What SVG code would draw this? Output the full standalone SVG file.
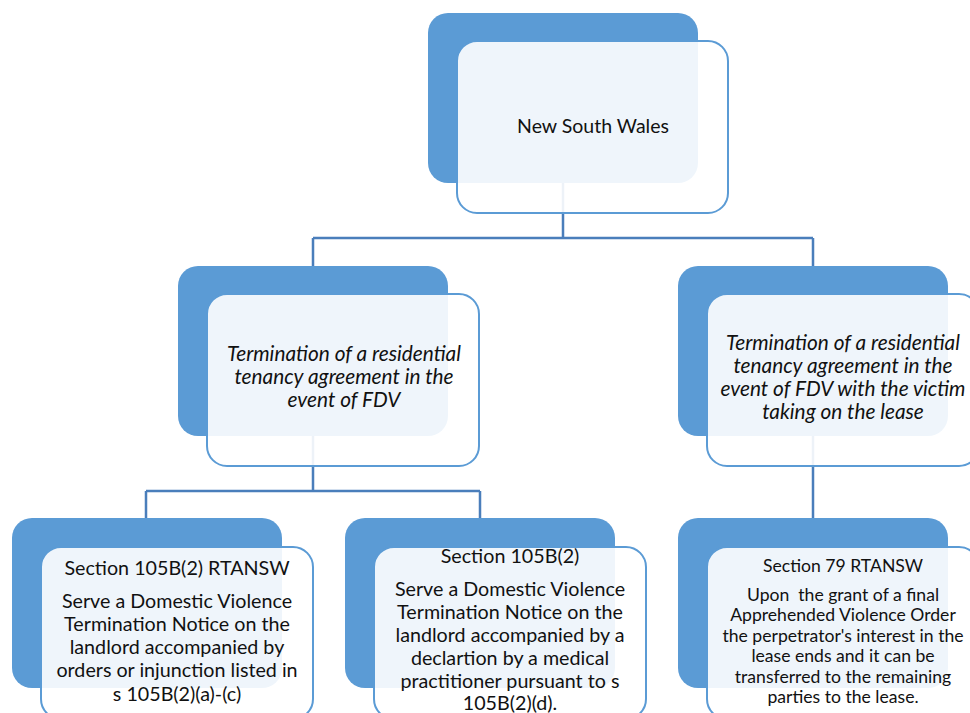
<svg xmlns="http://www.w3.org/2000/svg" width="970" height="713" viewBox="0 0 970 713">
<style>
.b{fill:#5B9BD5}
.l{fill:#fff;fill-opacity:0.9;stroke:#5B9BD5;stroke-width:2}
.c{fill:none;stroke:#4A7EBB;stroke-width:2.5}
text{font-family:Lato,"Open Sans",sans-serif;fill:#111;text-anchor:middle}
.t{font-size:19.5px}
.i{font-size:20.8px;font-style:italic}
.s{font-size:19.7px}
.r{font-size:17.6px}
</style>
<rect width="970" height="713" fill="#fff"/>
<g id="connectors">
<path class="c" d="M563,183 V238 M313,238 H813 M313,238 V266 M813,238 V266"/>
<path class="c" d="M313,436 V491 M146,491 H480 M146,491 V518 M480,491 V518"/>
<path class="c" d="M813,436 V518"/>
</g>
<g id="nsw">
<rect class="b" x="428" y="13" width="270" height="170" rx="20"/>
<rect class="l" x="457" y="41" width="271" height="172" rx="20"/>
<text class="t" x="593" y="133">New South Wales</text>
</g>
<g id="fdv">
<rect class="b" x="178" y="266" width="270" height="170" rx="20"/>
<rect class="l" x="207" y="294" width="272" height="172" rx="20"/>
<text class="i" x="344"><tspan x="344" y="361">Termination of a residential</tspan><tspan x="344" y="384">tenancy agreement in the</tspan><tspan x="344" y="407">event of FDV</tspan></text>
</g>
<g id="fdv-victim">
<rect class="b" x="678" y="266" width="270" height="170" rx="20"/>
<rect class="l" x="707" y="294" width="272" height="172" rx="20"/>
<text class="i" x="843"><tspan x="843" y="350">Termination of a residential</tspan><tspan x="843" y="373">tenancy agreement in the</tspan><tspan x="843" y="396">event of FDV with the victim</tspan><tspan x="843" y="419">taking on the lease</tspan></text>
</g>
<g id="s105-ac">
<rect class="b" x="12" y="518" width="270" height="170" rx="20"/>
<rect class="l" x="41" y="547" width="272" height="172" rx="20"/>
<text class="s" x="177"><tspan x="177" y="575">Section 105B(2) RTANSW</tspan><tspan x="177" y="608">Serve a Domestic Violence</tspan><tspan x="177" y="631">Termination Notice on the</tspan><tspan x="177" y="654">landlord accompanied by</tspan><tspan x="177" y="677">orders or injunction listed in</tspan><tspan x="177" y="701">s 105B(2)(a)-(c)</tspan></text>
</g>
<g id="s105-d">
<rect class="b" x="345" y="518" width="270" height="170" rx="20"/>
<rect class="l" x="374" y="547" width="272" height="172" rx="20"/>
<text class="s" x="510"><tspan x="510" y="563">Section 105B(2)</tspan><tspan x="510" y="596">Serve a Domestic Violence</tspan><tspan x="510" y="619">Termination Notice on the</tspan><tspan x="510" y="642">landlord accompanied by a</tspan><tspan x="510" y="665">declartion by a medical</tspan><tspan x="510" y="688">practitioner pursuant to s</tspan><tspan x="510" y="710">105B(2)(d).</tspan></text>
</g>
<g id="s79">
<rect class="b" x="678" y="518" width="270" height="170" rx="20"/>
<rect class="l" x="707" y="547" width="272" height="172" rx="20"/>
<text class="r" x="843"><tspan x="843" y="572">Section 79 RTANSW</tspan><tspan x="843" y="601">Upon&#160; the grant of a final</tspan><tspan x="843" y="621">Apprehended Violence Order</tspan><tspan x="843" y="642">the perpetrator's interest in the</tspan><tspan x="843" y="662">lease ends and it can be</tspan><tspan x="843" y="683">transferred to the remaining</tspan><tspan x="843" y="703">parties to the lease.</tspan></text>
</g>
</svg>
